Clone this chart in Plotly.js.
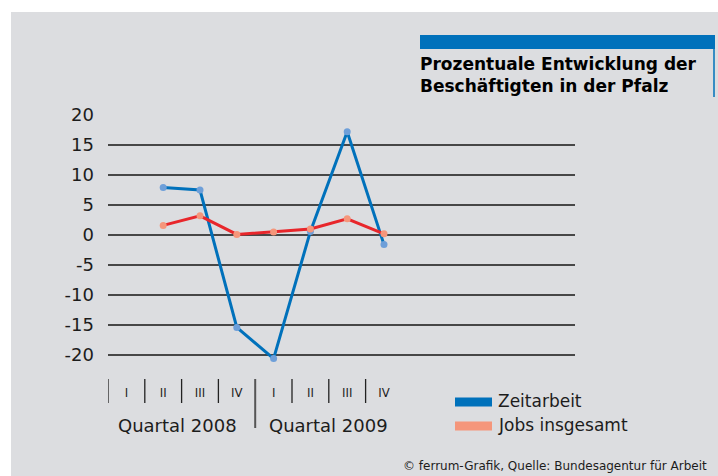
<!DOCTYPE html>
<html>
<head>
<meta charset="utf-8">
<script src="https://cdn.plot.ly/plotly-3.0.1.min.js"></script>
<style>html,body{margin:0;padding:0;background:#fff;}#chart{width:718px;height:476px;}</style>
</head>
<body>
<div id="chart"></div>
<script>
// ---- data ----
const quarterLabels = ["I", "II", "III", "IV", "I", "II", "III", "IV"];
const yearLabels = ["Quartal 2008", "Quartal 2009"];
const dataQuarters = [1, 2, 3, 4, 5, 6, 7]; // II/2008 .. IV/2009
const zeitarbeit = [7.9, 7.5, -15.4, -20.6, 0.6, 17.2, -1.6];
const jobsInsgesamt = [1.6, 3.2, 0.1, 0.5, 1.0, 2.7, 0.2];
const seriesNames = ["Zeitarbeit", "Jobs insgesamt"];
const yTickVals = [20, 15, 10, 5, 0, -5, -10, -15, -20];
const yTickText = ["20", "15", "10", "5", "0", "-5", "-10", "-15", "-20"];
const titleText = "Prozentuale Entwicklung der<br>Beschäftigten in der Pfalz";
const creditText = "© ferrum-Grafik, Quelle: Bundesagentur für Arbeit";

// ---- styling / layout geometry ----
const W = 718, H = 476;
const PL = 108, PR = 575, PT = 115, PB = 364;
const px = x => (x - PL) / (PR - PL);
const py = y => (PB - y) / (PB - PT);
const FONT = "'DejaVu Sans', sans-serif";
const FONT_C = "'DejaVu Sans Condensed', 'DejaVu Sans', sans-serif";
const TXT = "#1c1c1c";
const blue = "#0071bb", blueMarker = "#6e9fd9";
const red = "#e8262b", salmon = "#f5967b";

const traces = [
  {
    x: dataQuarters, y: zeitarbeit, name: seriesNames[0], type: "scatter", mode: "lines+markers",
    line: {color: blue, width: 3}, marker: {color: blueMarker, size: 7},
    cliponaxis: false, showlegend: false, hoverinfo: "x+y"
  },
  {
    x: dataQuarters, y: jobsInsgesamt, name: seriesNames[1], type: "scatter", mode: "lines+markers",
    line: {color: red, width: 3}, marker: {color: salmon, size: 7},
    cliponaxis: false, showlegend: false, hoverinfo: "x+y"
  }
];

const shapes = [];
// gray panel background
shapes.push({type: "rect", xref: "paper", yref: "paper", layer: "below",
  x0: px(11), x1: px(730), y0: py(490), y1: py(12),
  fillcolor: "#dcdde0", line: {width: 0}});
// blue title bar + thin vertical rule
shapes.push({type: "rect", xref: "paper", yref: "paper",
  x0: px(420), x1: px(715), y0: py(49), y1: py(35),
  fillcolor: "#0071bb", line: {width: 0}});
shapes.push({type: "line", xref: "paper", yref: "paper",
  x0: px(714), x1: px(714), y0: py(49), y1: py(97),
  line: {color: "#0071bb", width: 1.5}});
// quarter separator ticks
for (let i = 0; i < quarterLabels.length; i++) {
  const isYearBreak = (i === 4);
  shapes.push({type: "line", xref: "x", yref: "paper",
    x0: i - 0.5, x1: i - 0.5, y0: py(isYearBreak ? 428 : 403), y1: py(379),
    line: {color: isYearBreak ? "#555" : "#222", width: isYearBreak ? 2 : 1.3}});
}
// legend swatches
const legendColors = [blue, salmon];
const legendY = [402, 426];
legendColors.forEach((c, k) => {
  shapes.push({type: "rect", xref: "paper", yref: "paper",
    x0: px(455), x1: px(492), y0: py(legendY[k] + 4.5), y1: py(legendY[k] - 4.5),
    fillcolor: c, line: {width: 0}});
});

const annotations = [];
const yearLabelX = [177, 328];
yearLabels.forEach((t, k) => {
  annotations.push({text: t, xref: "paper", yref: "paper", x: px(yearLabelX[k]), y: py(425),
    xanchor: "center", yanchor: "middle", showarrow: false,
    font: {family: FONT, size: 18, color: TXT}});
});
seriesNames.forEach((t, k) => {
  annotations.push({text: t, xref: "paper", yref: "paper", x: px(496), y: py(legendY[k] - 1),
    xanchor: "left", yanchor: "middle", showarrow: false,
    font: {family: FONT, size: 17, color: TXT}});
});
annotations.push({text: creditText, xref: "paper", yref: "paper", x: px(709), y: py(466),
  xanchor: "right", yanchor: "middle", showarrow: false,
  font: {family: FONT, size: 12, color: TXT}});

const layout = {
  width: W, height: H,
  margin: {l: PL, r: W - PR, t: PT, b: H - PB, pad: 0},
  paper_bgcolor: "#ffffff", plot_bgcolor: "rgba(0,0,0,0)",
  title: {text: titleText, xref: "container", yref: "container", x: 420 / W, xanchor: "left",
    y: 1 - 70 / H, yanchor: "top",
    font: {family: "'DejaVu Sans', sans-serif", size: 17, weight: "bold", color: "#000"}},
  xaxis: {
    range: [-0.5, (PR - PL) / 36.8 - 0.5], showgrid: false, zeroline: false, showline: false,
    tickmode: "array", tickvals: quarterLabels.map((_, i) => i), ticktext: quarterLabels,
    ticks: "", ticklabelstandoff: 19, tickfont: {family: FONT_C, size: 13, color: TXT},
    fixedrange: true
  },
  yaxis: {
    range: [-21.5, 20], showgrid: true, gridcolor: "#474747", gridwidth: 1.5,
    zeroline: false, showline: false,
    tickmode: "array", tickvals: yTickVals, ticktext: yTickText,
    ticks: "", ticklabelstandoff: 13, tickfont: {family: FONT, size: 18, color: TXT},
    fixedrange: true
  },
  shapes: shapes, annotations: annotations, showlegend: false
};

Plotly.newPlot("chart", traces, layout, {displayModeBar: false, staticPlot: true});
</script>
</body>
</html>
